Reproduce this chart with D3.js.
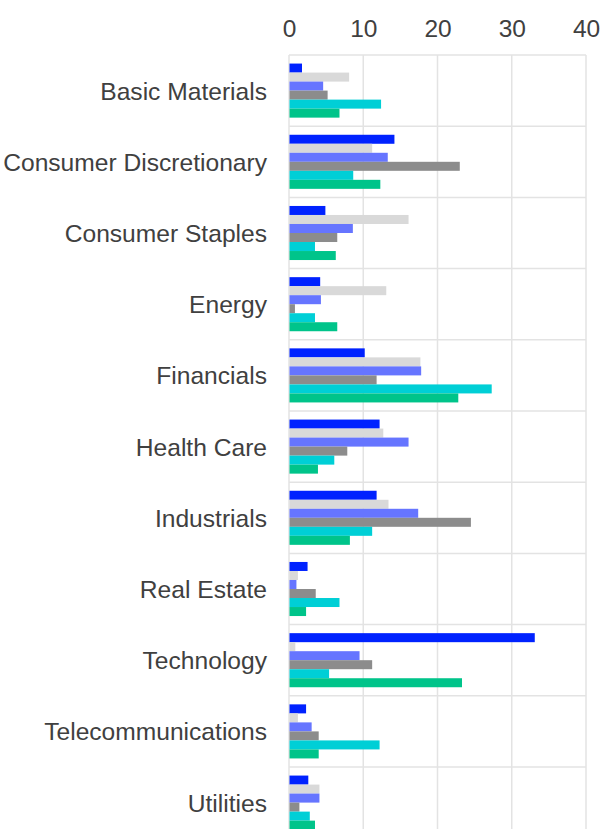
<!DOCTYPE html>
<html>
<head>
<meta charset="utf-8">
<script src="https://cdn.jsdelivr.net/npm/d3@7"></script>
<style>
  html, body { margin: 0; padding: 0; background: #fff; }
  svg { display: block; }
  text { font-family: "Liberation Sans", Arial, sans-serif; fill: #404040; }
</style>
</head>
<body>
<svg id="chart" width="601" height="829"></svg>
<script>
const categories = ["Basic Materials", "Consumer Discretionary", "Consumer Staples", "Energy",
  "Financials", "Health Care", "Industrials", "Real Estate", "Technology",
  "Telecommunications", "Utilities"];
const seriesNames = ["S1", "S2", "S3", "S4", "S5", "S6"];
const seriesColors = ["#0022ff", "#d9d9d9", "#6675ff", "#8c8c8c", "#00cfd6", "#00c48a"];
const s1 = [1.75, 14.2, 4.9, 4.2, 10.2, 12.2, 11.8, 2.5, 33.1, 2.3, 2.6];
const s2 = [8.1, 11.2, 16.1, 13.1, 17.7, 12.7, 13.4, 1.2, 0.85, 1.2, 4.1];
const s3 = [4.6, 13.3, 8.6, 4.3, 17.8, 16.1, 17.4, 1.0, 9.5, 3.05, 4.1];
const s4 = [5.2, 23.0, 6.5, 0.8, 11.8, 7.85, 24.5, 3.6, 11.2, 4.0, 1.4];
const s5 = [12.4, 8.65, 3.5, 3.5, 27.3, 6.1, 11.2, 6.8, 5.4, 12.2, 2.8];
const s6 = [6.8, 12.3, 6.3, 6.5, 22.8, 3.9, 8.2, 2.3, 23.3, 4.0, 3.5];
const xTicks = [0, 10, 20, 30, 40];

(function () {
const seriesValues = [s1, s2, s3, s4, s5, s6];
const rows = categories.map((c, i) => ({
  cat: c,
  vals: seriesNames.map((s, j) => ({ key: s, value: seriesValues[j][i], color: seriesColors[j] }))
}));

const svg = d3.select("#chart");
const mLeft = 289, mRight = 586, mTop = 55, bandH = 71.2;

const x = d3.scaleLinear().domain([0, 40]).range([mLeft, mRight]);
const y = d3.scaleBand().domain(categories).range([mTop, mTop + bandH * categories.length]).padding(0);
const ys = d3.scaleBand().domain(seriesNames).range([0, y.bandwidth()]).paddingInner(0).paddingOuter(0.95);

// vertical grid
svg.append("g").selectAll("line").data(xTicks).join("line")
  .attr("x1", d => x(d)).attr("x2", d => x(d))
  .attr("y1", mTop).attr("y2", y.range()[1])
  .attr("stroke", "#e3e3e3").attr("stroke-width", 1.5);

// horizontal separators
const seps = categories.map(c => y(c)).concat([y.range()[1]]);
svg.append("g").selectAll("line").data(seps).join("line")
  .attr("x1", mLeft).attr("x2", mRight)
  .attr("y1", d => d).attr("y2", d => d)
  .attr("stroke", "#e3e3e3").attr("stroke-width", 1.5);

// bars
const g = svg.append("g").selectAll("g").data(rows).join("g")
  .attr("transform", d => `translate(0,${y(d.cat)})`);
g.selectAll("rect").data(d => d.vals).join("rect")
  .attr("x", x(0) + 0.5)
  .attr("y", d => ys(d.key))
  .attr("width", d => Math.max(0, x(d.value) - x(0) - 0.5))
  .attr("height", ys.bandwidth())
  .attr("fill", d => d.color);

// x axis labels (top)
const xAxis = d3.axisTop(x).tickValues(xTicks).tickSize(0).tickPadding(0);
const ax = svg.append("g").attr("transform", `translate(0,37)`).call(xAxis);
ax.select(".domain").remove();
ax.selectAll("text").style("font-size", "24.5px").attr("fill", "#404040")
  .style("font-family", "'Liberation Sans', Arial, sans-serif");

// y axis labels
const yAxis = d3.axisLeft(y).tickSize(0).tickPadding(22);
const ay = svg.append("g").attr("transform", `translate(${mLeft},1.2)`).call(yAxis);
ay.select(".domain").remove();
ay.selectAll("text").style("font-size", "24.6px").attr("fill", "#404040")
  .style("font-family", "'Liberation Sans', Arial, sans-serif");
})();
</script>
</body>
</html>
